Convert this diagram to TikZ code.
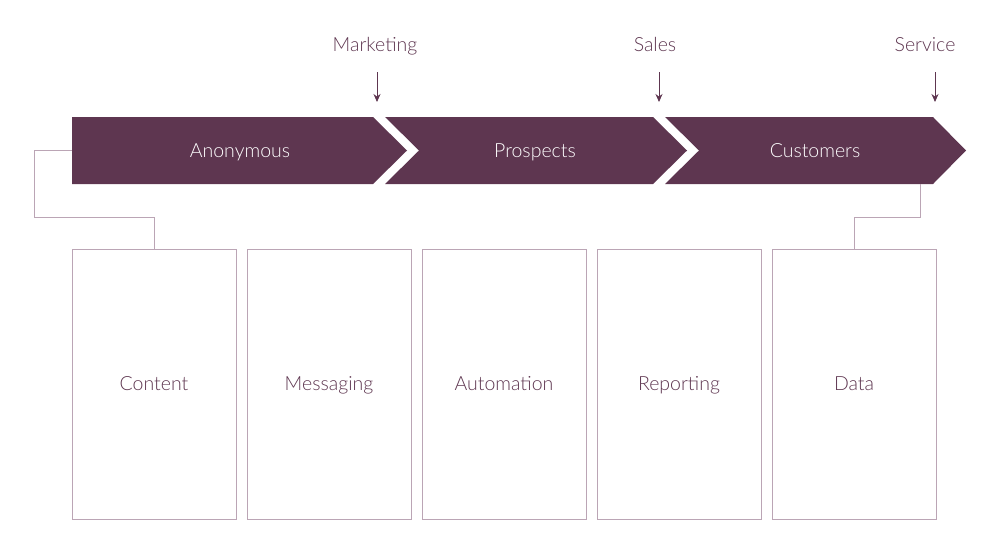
\documentclass[tikz,border=0pt]{standalone}
\usepackage{fontspec}
\setmainfont{Lato Light}
\usetikzlibrary{arrows.meta}
\definecolor{plum}{HTML}{5E3650}
\definecolor{lplum}{HTML}{BBA5B5}
\begin{document}
\begin{tikzpicture}[x=1pt,y=-1pt,
  chev/.style={fill=plum,draw=none},
  bartext/.style={text=white,anchor=base,inner sep=0pt,font=\fontsize{19.5}{22}\selectfont},
  stage/.style={text=plum,anchor=base,inner sep=0pt,font=\fontsize{19.5}{22}\selectfont},
  panel/.style={draw=lplum,line width=0.9pt,minimum width=164pt,minimum height=270pt,inner sep=0pt},
  paneltext/.style={text=plum,anchor=base,inner sep=0pt,font=\fontsize{19.5}{22}\selectfont},
  wire/.style={draw=lplum,line width=0.9pt},
  pointer/.style={draw=plum,line width=0.8pt,-{Stealth[length=8pt,width=7pt]}}]
\useasboundingbox (0,0) rectangle (1000,555);
% chevrons
\path[chev] (72,117) -- (373,117) -- (407,150.5) -- (373,184) -- (72,184) -- cycle;
\path[chev] (385,117) -- (653,117) -- (687,150.5) -- (653,184) -- (385,184) -- (419,150.5) -- cycle;
\path[chev] (665,117) -- (933,117) -- (966,150.5) -- (933,184) -- (665,184) -- (699,150.5) -- cycle;
\node[bartext] (anon) at (240,157) {Anonymous};
\node[bartext] (pros) at (535,157) {Prospects};
\node[bartext] (cust) at (815,157) {Customers};
% stage labels and pointers
\node[stage] (mkt) at (375,51) {Marketing};
\node[stage] (sal) at (655,51) {Sales};
\node[stage] (ser) at (925,51) {Service};
\coordinate (mktA) at (377,72); \coordinate (mktB) at (377,102);
\coordinate (salA) at (659,72); \coordinate (salB) at (659,102);
\coordinate (serA) at (935,72); \coordinate (serB) at (935,102);
\draw[pointer] (mktA) -- (mktB);
\draw[pointer] (salA) -- (salB);
\draw[pointer] (serA) -- (serB);
% panels
\node[panel] (content) at (154,384) {};
\node[panel] (messaging) at (329,384) {};
\node[panel] (automation) at (504,384) {};
\node[panel] (reporting) at (679,384) {};
\node[panel] (data) at (854,384) {};
\node[paneltext] (tcontent) at (154,390) {Content};
\node[paneltext] (tmessaging) at (329,390) {Messaging};
\node[paneltext] (tautomation) at (504,390) {Automation};
\node[paneltext] (treporting) at (679,390) {Reporting};
\node[paneltext] (tdata) at (854,390) {Data};
% connectors
\coordinate (barL) at (72,150.5);
\coordinate (barR) at (920,184);
\draw[wire] (barL) -- (34,150.5) -- (34,217) -- (content.north |- 0,217) -- (content.north);
\draw[wire] (barR) -- (920,217) -- (data.north |- 0,217) -- (data.north);
\end{tikzpicture}
\end{document}
